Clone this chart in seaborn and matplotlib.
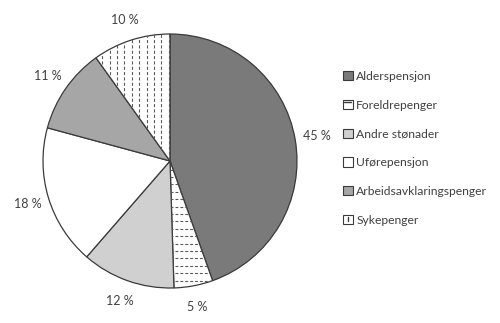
import numpy as np
import matplotlib
matplotlib.use("Agg")
import matplotlib.pyplot as plt
from matplotlib.patches import Patch
from matplotlib.lines import Line2D
from matplotlib.legend_handler import HandlerPatch
import seaborn as sns

categories = ["Alderspensjon", "Foreldrepenger", "Andre stønader",
              "Uførepensjon", "Arbeidsavklaringspenger", "Sykepenger"]
shares = [45, 5, 12, 18, 11, 10]
pct_labels = [f"{v} %" for v in shares]

colors = ["#7a7a7a", "#ffffff", "#d0d0d0", "#ffffff", "#a6a6a6", "#ffffff"]
dash_fill = {1: "h", 5: "v"}   # wedge index -> direction of dashed fill

sns.set_style("white")
plt.rcParams["font.family"] = ["Lato", "DejaVu Sans"]
text_color = "#404040"
edge_color = "#3a3a3a"
dash_color = "#5a5a5a"

fig = plt.figure(figsize=(5.0, 3.23), dpi=100)
W, H = 500, 323
cx, cy, R = 170, 161, 127
ax = fig.add_axes([(cx - R) / W, (H - cy - R) / H, 2 * R / W, 2 * R / H])

wedges, texts = ax.pie(
    shares, colors=colors, startangle=90, counterclock=False,
    labels=pct_labels, labeldistance=1.17,
    wedgeprops=dict(edgecolor=edge_color, linewidth=0.9),
    textprops=dict(color=text_color, fontsize=9),
)
for t in texts:
    t.set_ha("center")
    t.set_va("center")
ax.set_xlim(-1, 1)
ax.set_ylim(-1, 1)
ax.set_aspect("equal")

# dashed line fills for the patterned wedges
step = 7.4 / R
for idx, direction in dash_fill.items():
    w = wedges[idx]
    for k in np.arange(-1.0, 1.0 + step, step):
        if direction == "h":
            xs, ys = [-1, 1], [k, k]
            dashes = (2.6, 1.8)
        else:
            xs, ys = [k, k], [-1, 1]
            dashes = (2.8, 2.0)
        ln, = ax.plot(xs, ys, color=dash_color, linewidth=0.8,
                      dashes=dashes, solid_capstyle="butt")
        ln.set_clip_path(w)


class DashSwatch(HandlerPatch):
    """Square swatch with a single dash hinting at the wedge pattern."""

    def __init__(self, direction=None, **kw):
        super().__init__(**kw)
        self.direction = direction

    def create_artists(self, legend, orig_handle, xdescent, ydescent,
                       width, height, fontsize, trans):
        arts = super().create_artists(legend, orig_handle, xdescent,
                                      ydescent, width, height, fontsize, trans)
        x0, y0 = -xdescent, -ydescent
        if self.direction == "h":
            yy = y0 + height * 0.78
            arts.append(Line2D([x0 + width * 0.15, x0 + width * 0.85], [yy, yy],
                               color=edge_color, linewidth=1.0, transform=trans))
        elif self.direction == "v":
            xx = x0 + width * 0.5
            arts.append(Line2D([xx, xx], [y0 + height * 0.3, y0 + height * 0.75],
                               color=edge_color, linewidth=1.0, transform=trans))
        return arts


handles = [Patch(facecolor=c, edgecolor=edge_color, linewidth=0.8)
           for c in colors]
handler_map = {handles[i]: DashSwatch(dash_fill.get(i)) for i in range(len(handles))}
leg = fig.legend(handles, categories, loc="upper left", handler_map=handler_map,
                 bbox_to_anchor=(343 / W, 1 - 71 / H), frameon=False,
                 fontsize=8.7, handlelength=0.8, handleheight=0.8,
                 handletextpad=0.3, labelspacing=1.47, borderpad=0,
                 borderaxespad=0)
for t in leg.get_texts():
    t.set_color(text_color)

fig.savefig("out.png", dpi=100)
